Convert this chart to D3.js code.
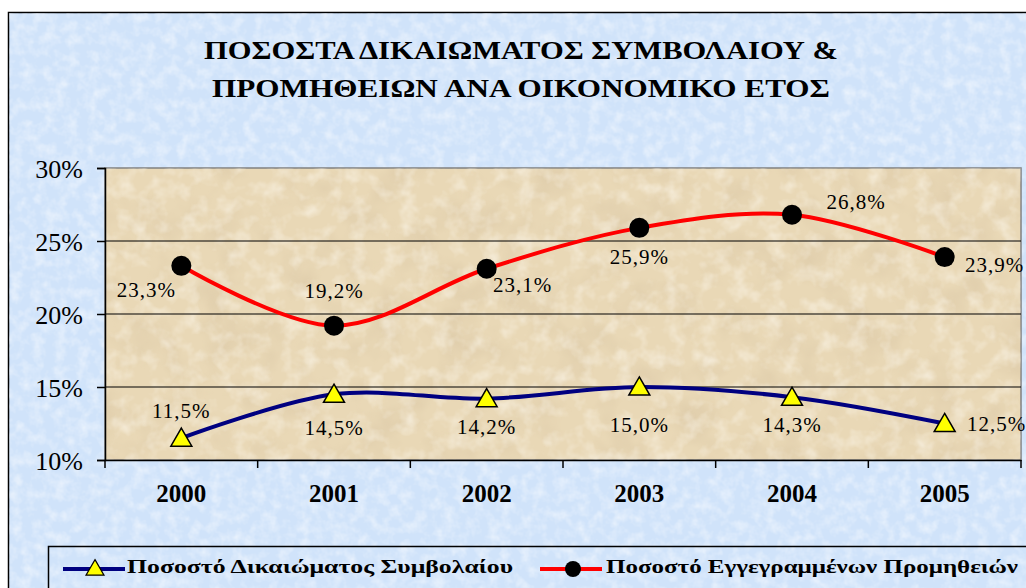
<!DOCTYPE html>
<html>
<head>
<meta charset="utf-8">
<script src="https://cdn.jsdelivr.net/npm/d3@7"></script>
<style>
  body { margin: 0; background: #fff; }
  svg { display: block; }
  svg text { font-family: "Liberation Serif", "DejaVu Serif", "Times New Roman", serif; }
</style>
</head>
<body>
<svg width="1026" height="588"></svg>
<script>
// chart data
const years = ['2000', '2001', '2002', '2003', '2004', '2005'];
const contractRate = [11.5, 14.5, 14.2, 15.0, 14.3, 12.5];
const commissionRate = [23.3, 19.2, 23.1, 25.9, 26.8, 23.9];
const yTicks = [10, 15, 20, 25, 30];
const titleLines = ['ΠΟΣΟΣΤΑ ΔΙΚΑΙΩΜΑΤΟΣ ΣΥΜΒΟΛΑΙΟΥ &', 'ΠΡΟΜΗΘΕΙΩΝ ΑΝΑ ΟΙΚΟΝΟΜΙΚΟ ΕΤΟΣ'];
const legendNames = ['Ποσοστό Δικαιώματος Συμβολαίου', 'Ποσοστό Εγγεγραμμένων Προμηθειών'];

// label placement offsets per point (dx, dy from the marker)
const contractLabelPos = [[0, -25], [0, 36], [0, 31], [0, 40], [0, 30], [52, 3]];
const commissionLabelPos = [[-35, 26], [0, -32], [36, 18], [0, 31], [64, -11], [50, 10]];

const greekFont = '"DejaVu Serif", serif';

const svg = d3.select('svg');
const defs = svg.append('defs');

function grain(id, freq, seed, rgb, alpha, cut) {
    const f = defs.append('filter').attr('id', id)
        .attr('x', 0).attr('y', 0).attr('width', 1).attr('height', 1);
    f.append('feTurbulence').attr('type', 'fractalNoise')
        .attr('baseFrequency', freq).attr('numOctaves', 3).attr('seed', seed);
    f.append('feColorMatrix').attr('type', 'matrix')
        .attr('values', `0 0 0 0 ${rgb[0]}  0 0 0 0 ${rgb[1]}  0 0 0 0 ${rgb[2]}  ${alpha} 0 0 0 ${-alpha * cut}`);
    f.append('feComposite').attr('operator', 'in').attr('in2', 'SourceGraphic');
}
grain('skyTex', 0.09, 3, [1, 1, 1], 1.0, 0.4);
grain('sandLight', 0.06, 11, [1, 0.97, 0.9], 1.1, 0.45);
grain('sandDark', 0.025, 7, [0.6, 0.47, 0.3], 0.7, 0.45);

// outer frame
svg.append('rect').attr('x', 8.5).attr('y', 12.5).attr('width', 1030).attr('height', 590)
    .attr('fill', '#d0e3fa').attr('stroke', '#000').attr('stroke-width', 1.5);
svg.append('rect').attr('x', 9).attr('y', 13).attr('width', 1020).attr('height', 580)
    .attr('fill', '#fff').attr('filter', 'url(#skyTex)');

// title
svg.append('g').selectAll('text').data(titleLines).join('text')
    .attr('x', 521).attr('y', (d, i) => 59 + i * 38)
    .attr('text-anchor', 'middle')
    .attr('font-family', greekFont)
    .attr('font-size', 25).attr('font-weight', 'bold')
    .attr('textLength', (d, i) => i === 0 ? 634 : 618).attr('lengthAdjust', 'spacingAndGlyphs')
    .text(d => d);

const margin = { left: 105, right: 1021, top: 168, bottom: 460 };

const x = d3.scaleBand().domain(years).range([margin.left, margin.right]);
const y = d3.scaleLinear().domain([10, 30]).range([margin.bottom, margin.top]);
const cx = d => x(d) + x.bandwidth() / 2;

// plot area
const pw = margin.right - margin.left, ph = margin.bottom - margin.top;
svg.append('rect').attr('x', margin.left).attr('y', margin.top).attr('width', pw).attr('height', ph)
    .attr('fill', '#e9d8b6').attr('stroke', '#808080').attr('stroke-width', 1.5);
svg.append('rect').attr('x', margin.left).attr('y', margin.top).attr('width', pw).attr('height', ph)
    .attr('fill', '#000').attr('filter', 'url(#sandDark)');
svg.append('rect').attr('x', margin.left).attr('y', margin.top).attr('width', pw).attr('height', ph)
    .attr('fill', '#000').attr('filter', 'url(#sandLight)');

// gridlines
svg.append('g').selectAll('line').data(yTicks.slice(1, -1)).join('line')
    .attr('x1', margin.left).attr('x2', margin.right)
    .attr('y1', d => y(d)).attr('y2', d => y(d))
    .attr('stroke', '#000').attr('stroke-width', 1);

// y axis
const yAxis = svg.append('g').attr('transform', `translate(${margin.left},0)`)
    .call(d3.axisLeft(y).tickValues(yTicks).tickSize(8).tickPadding(14)
        .tickFormat(d => d + '%'));
yAxis.select('.domain').attr('stroke', '#000').attr('stroke-width', 1.5);
yAxis.selectAll('line').attr('stroke', '#000').attr('stroke-width', 1.5);
yAxis.selectAll('text').attr('font-size', 26).attr('font-family', '"Liberation Serif", serif')
    .attr('fill', '#000').attr('dy', '0.35em');

// x axis
const xAxis = svg.append('g').attr('transform', `translate(0,${margin.bottom})`)
    .call(d3.axisBottom(x).tickSize(0).tickPadding(28));
xAxis.select('.domain').attr('stroke', '#000').attr('stroke-width', 1.5);
xAxis.selectAll('text').attr('font-size', 25).attr('font-weight', 'bold')
    .attr('font-family', '"Liberation Serif", serif').attr('fill', '#000').attr('dy', '0.55em');
xAxis.append('g').selectAll('line').data([margin.left].concat(years.map(d => x(d) + x.bandwidth()))).join('line')
    .attr('x1', d => d).attr('x2', d => d)
    .attr('y1', 0).attr('y2', 8).attr('stroke', '#000').attr('stroke-width', 1.5);

const line = d3.line().x((d, i) => cx(years[i])).y(d => y(d)).curve(d3.curveCatmullRom.alpha(0.5));

const series = [
    { values: contractRate, color: '#000080', marker: 'triangle', labels: contractLabelPos },
    { values: commissionRate, color: '#ff0000', marker: 'circle', labels: commissionLabelPos }
];

const tri = d3.symbol().type(d3.symbolTriangle).size(190);

series.forEach(s => {
    svg.append('path').datum(s.values).attr('d', line)
        .attr('fill', 'none').attr('stroke', s.color).attr('stroke-width', 4);
    const g = svg.append('g');
    if (s.marker === 'circle') {
        g.selectAll('circle').data(s.values).join('circle')
            .attr('cx', (d, i) => cx(years[i])).attr('cy', d => y(d)).attr('r', 10)
            .attr('fill', '#000');
    } else {
        g.selectAll('path').data(s.values).join('path')
            .attr('d', tri)
            .attr('transform', (d, i) => `translate(${cx(years[i])},${y(d) + 2})`)
            .attr('fill', '#ffff00').attr('stroke', '#000').attr('stroke-width', 1.5);
    }
    svg.append('g').selectAll('text').data(s.values).join('text')
        .attr('x', (d, i) => cx(years[i]) + s.labels[i][0])
        .attr('y', (d, i) => y(d) + s.labels[i][1])
        .attr('text-anchor', 'middle').attr('dominant-baseline', 'middle')
        .attr('font-size', 21).attr('letter-spacing', 1).attr('fill', '#000')
        .text(d => d.toFixed(1).replace('.', ',') + '%');
});

// legend
const legend = svg.append('g');
legend.append('rect').attr('x', 48.5).attr('y', 546.5).attr('width', 1000).attr('height', 60)
    .attr('fill', 'none').attr('stroke', '#000').attr('stroke-width', 1.5);
const legendItems = [
    { x: 63, textX: 127, textLen: 386, s: series[0], name: legendNames[0] },
    { x: 540, textX: 606, textLen: 412, s: series[1], name: legendNames[1] }
];
legendItems.forEach(it => {
    const ly = 569;
    legend.append('line').attr('x1', it.x).attr('x2', it.x + 62).attr('y1', ly).attr('y2', ly)
        .attr('stroke', it.s.color).attr('stroke-width', 4);
    if (it.s.marker === 'circle') {
        legend.append('circle').attr('cx', it.x + 33).attr('cy', ly).attr('r', 8).attr('fill', '#000');
    } else {
        legend.append('path').attr('d', d3.symbol().type(d3.symbolTriangle).size(140))
            .attr('transform', `translate(${it.x + 32},${ly + 1})`)
            .attr('fill', '#ffff00').attr('stroke', '#000').attr('stroke-width', 1.2);
    }
    legend.append('text').attr('x', it.textX).attr('y', ly).attr('dominant-baseline', 'middle')
        .attr('font-family', greekFont)
        .attr('font-size', 18).attr('font-weight', 'bold')
        .attr('textLength', it.textLen).attr('lengthAdjust', 'spacingAndGlyphs')
        .text(it.name);
});
</script>
</body>
</html>
